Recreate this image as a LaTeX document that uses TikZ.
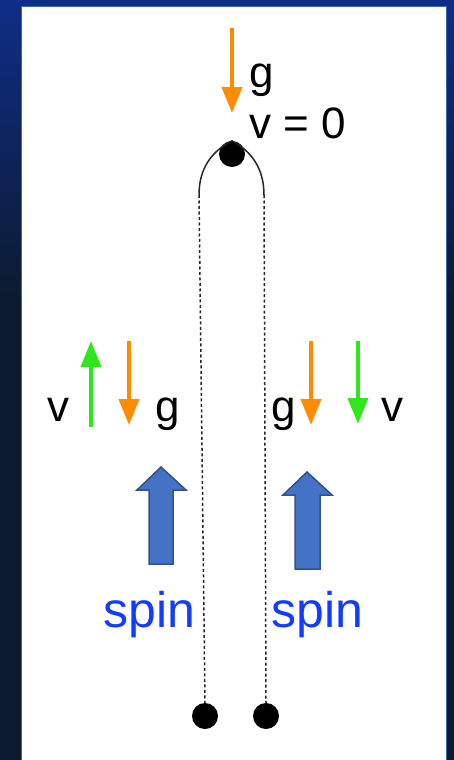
\documentclass[tikz,border=0pt]{standalone}
\usepackage{fontspec}
\setmainfont{Liberation Sans}
\usetikzlibrary{arrows.meta}
\definecolor{navy}{RGB}{14,45,135}
\definecolor{darkbg}{RGB}{12,27,48}
\definecolor{orng}{RGB}{255,140,0}
\definecolor{grn}{RGB}{50,230,30}
\definecolor{spinblue}{RGB}{20,60,255}
\definecolor{blockfill}{RGB}{68,114,196}
\definecolor{blockedge}{RGB}{47,82,143}
\definecolor{panelline}{RGB}{60,100,180}
\begin{document}
\begin{tikzpicture}[x=1pt,y=-1pt,
  lbl/.style={font=\fontsize{44}{48}\selectfont, inner sep=0pt, anchor=base west},
  spinlbl/.style={font=\fontsize{50}{54}\selectfont, text=spinblue, inner sep=0pt, anchor=base west},
  vec/.style={line width=4pt, -{Triangle[length=26pt,width=20pt]}},
  gvec/.style={vec, draw=orng},
  vvec/.style={vec, draw=grn},
  ball/.style={circle, fill=black, minimum size=26pt, inner sep=0pt},
  traj/.style={line width=1.5pt, draw=black!85},
  trajdash/.style={traj, dash pattern=on 3pt off 2.5pt},
  block/.style={fill=blockfill, draw=blockedge, line width=1.5pt, line join=miter}
]
\useasboundingbox (0,0) rectangle (454,760);
% background
\fill[darkbg] (0,0) rectangle (454,760);
\shade[top color=navy, bottom color=darkbg] (0,0) rectangle (454,300);
\fill[white] (22,7) rectangle (446,760);
\draw[panelline, line width=1pt] (21.5,760) -- (21.5,6.5) -- (446.5,6.5) -- (446.5,760);

% balls
\node[ball] (top) at (232,154) {};
\node[ball] (bl) at (205,716) {};
\node[ball] (br) at (266,716) {};

% trajectory
\coordinate (cl) at (199,195);
\coordinate (cr) at (264,195);
\draw[traj] (cl) .. controls (199,168) and (212,151) .. (top.north)
            .. controls (251,151) and (264,168) .. (cr);
\draw[trajdash] (cl) -- (bl.north);
\draw[trajdash] (cr) -- (br.north);

% top vectors and labels
\coordinate (tg0) at (232,28);
\coordinate (tg1) at (232,113);
\draw[gvec] (tg0) -- (tg1);
\node[lbl] (tgl) at (249,87) {g};
\node[lbl] (tv) at (249,138) {v = 0};

% left vectors
\coordinate (lv0) at (91,427);
\coordinate (lv1) at (91,341);
\draw[vvec] (lv0) -- (lv1);
\coordinate (lg0) at (129,341);
\coordinate (lg1) at (129,425);
\draw[gvec] (lg0) -- (lg1);
\node[lbl] (lvl) at (47,421) {v};
\node[lbl] (lgl) at (155,421) {g};

% right vectors
\coordinate (rg0) at (311,341);
\coordinate (rg1) at (311,425);
\draw[gvec] (rg0) -- (rg1);
\coordinate (rv0) at (358,341);
\coordinate (rv1) at (358,424);
\draw[vvec] (rv0) -- (rv1);
\node[lbl] (rgl) at (271,421) {g};
\node[lbl] (rvl) at (381,421) {v};

% spin block arrows
\draw[block] (161,467) -- (186,490) -- (173,490) -- (173,564) -- (149,564) -- (149,490) -- (137,490) -- cycle;
\draw[block] (307,472) -- (332,495) -- (320,495) -- (320,569) -- (295,569) -- (295,495) -- (283,495) -- cycle;

% spin labels
\node[spinlbl] (sl) at (103,627) {spin};
\node[spinlbl] (sr) at (271,627) {spin};
\end{tikzpicture}
\end{document}
